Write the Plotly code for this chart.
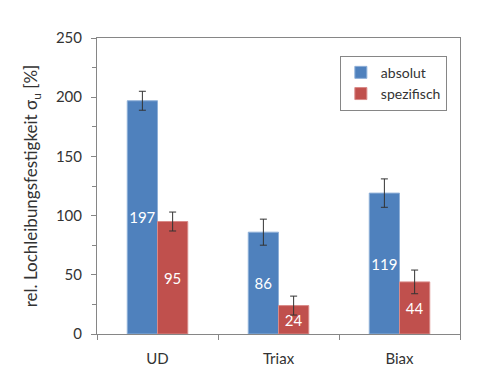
import plotly.graph_objects as go

categories = ["UD", "Triax", "Biax"]
absolut = [197, 86, 119]
absolut_err = [8, 11, 12]
spezifisch = [95, 24, 44]
spezifisch_err = [8, 8, 10]
y_ticks = [0, 50, 100, 150, 200, 250]

font = "Lato"
axis_col = "#868686"
text_col = "#333333"

fig = go.Figure()
fig.add_trace(go.Bar(
    x=categories, y=absolut, name="absolut",
    marker=dict(color="#4F81BD", line=dict(color="#8fb0d8", width=1)),
    text=[str(v) for v in absolut], textposition="inside", insidetextanchor="middle",
    textangle=0, textfont=dict(color="white", size=15, family=font),
    error_y=dict(type="data", array=absolut_err, color="#333333", thickness=1, width=3.5),
))
fig.add_trace(go.Bar(
    x=categories, y=spezifisch, name="spezifisch",
    marker=dict(color="#C0504D", line=dict(color="#d98a88", width=1)),
    text=[str(v) for v in spezifisch], textposition="inside", insidetextanchor="middle",
    textangle=0, textfont=dict(color="white", size=15, family=font),
    error_y=dict(type="data", array=spezifisch_err, color="#333333", thickness=1, width=3.5),
))

fig.update_layout(
    width=500, height=379,
    margin=dict(l=97, r=40, t=38, b=45, autoexpand=False),
    paper_bgcolor="white", plot_bgcolor="white",
    barmode="group", bargap=0.5, bargroupgap=0,
    font=dict(family=font, size=15, color=text_col),
    showlegend=True,
    legend=dict(
        x=0.669, y=0.94, xanchor="left", yanchor="top",
        bordercolor="#868686", borderwidth=1, bgcolor="white",
        font=dict(size=14, family=font, color=text_col),
        itemwidth=30, tracegroupgap=4,
    ),
    uniformtext=dict(minsize=15, mode="show"),
)
fig.update_xaxes(
    type="category", showline=True, linecolor=axis_col, linewidth=1, mirror=True,
    ticks="outside", tickson="boundaries", ticklen=5, tickcolor=axis_col,
    showgrid=False, ticklabelstandoff=11, tickfont=dict(size=15), automargin=False,
)
fig.update_yaxes(
    range=[0, 250], tickvals=y_ticks, showline=True, linecolor=axis_col, linewidth=1, mirror=True,
    ticks="outside", ticklen=5, tickcolor=axis_col, showgrid=False, zeroline=False,
    minor=dict(dtick=25, ticks="outside", ticklen=4, tickcolor=axis_col, tick0=0),
    ticklabelstandoff=6, tickfont=dict(size=15), automargin=False,
    title=dict(text="rel. Lochleibungsfestigkeit σ<sub>u</sub> [%]", font=dict(size=17), standoff=13),
)

fig.write_html("out.html", config={"displayModeBar": False},
               post_script="document.body.style.margin='0';")
